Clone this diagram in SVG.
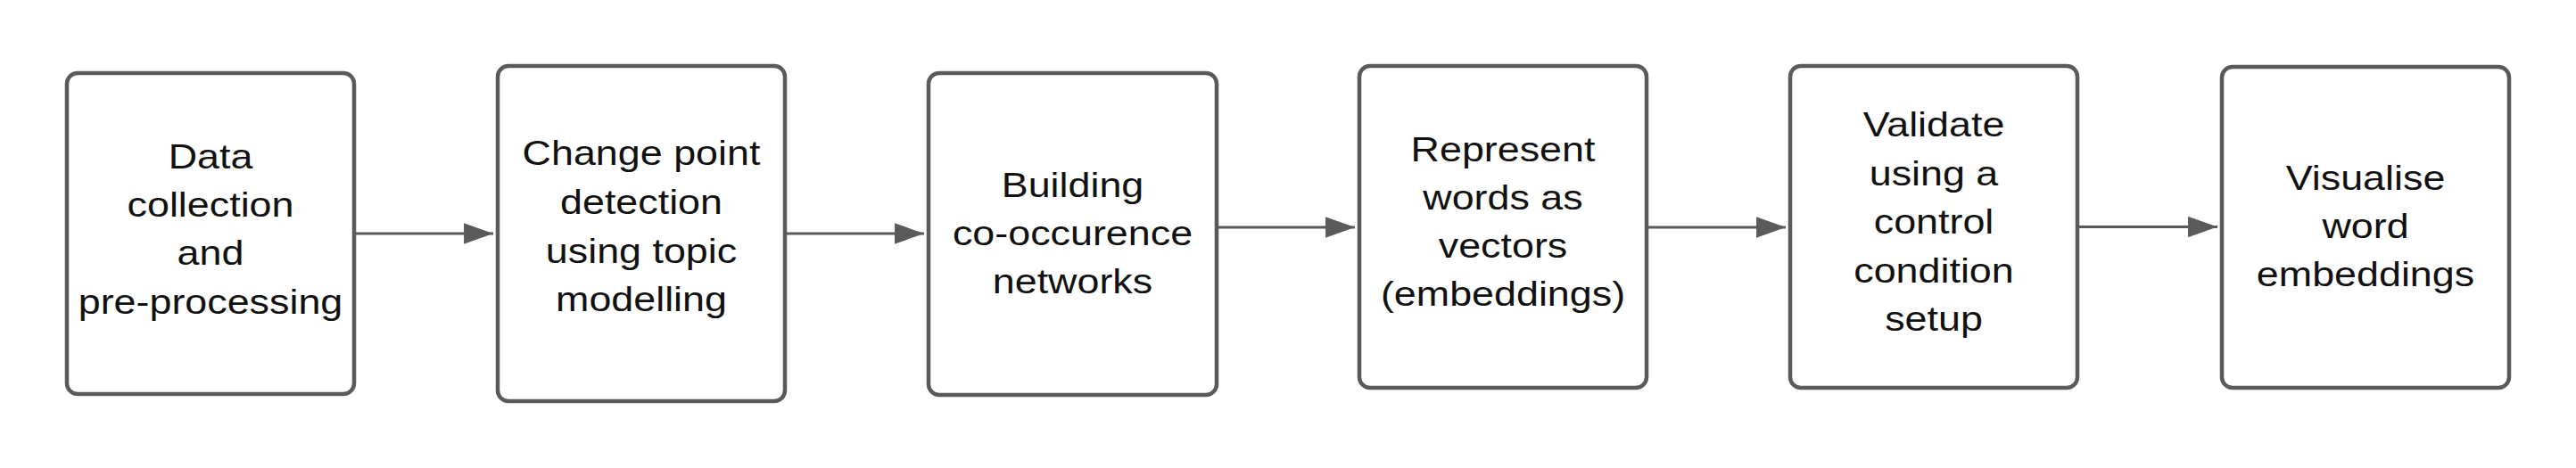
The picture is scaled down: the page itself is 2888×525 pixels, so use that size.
<svg xmlns="http://www.w3.org/2000/svg" width="2888" height="525" viewBox="0 0 2888 525">
<style>
.box{fill:#ffffff;stroke:#5a5a5a;stroke-width:4.5}
.lbl{font-family:"Liberation Sans",Arial,sans-serif;font-size:39px;fill:#111111;text-anchor:middle}
.conn{stroke:#5a5a5a;stroke-width:3;fill:none;marker-end:url(#ah)}
</style>
<defs>
<marker id="ah" markerUnits="userSpaceOnUse" markerWidth="34" markerHeight="24" viewBox="0 0 32 22" refX="31" refY="11" orient="auto">
<path d="M0,0 L31,11 L0,22 Z" fill="#5a5a5a"/>
</marker>
</defs>
<rect width="2888" height="525" fill="#ffffff"/>
<g id="connectors">
<line class="conn" x1="399" y1="262" x2="553" y2="262"/>
<line class="conn" x1="882" y1="262" x2="1036" y2="262"/>
<line class="conn" x1="1366" y1="255" x2="1519" y2="255"/>
<line class="conn" x1="1848" y1="255" x2="2002" y2="255"/>
<line class="conn" x1="2331" y1="254.5" x2="2486" y2="254.5"/>
</g>
<g id="n1">
<rect class="box" x="75" y="82" width="322" height="360" rx="12"/>
<text class="lbl" transform="translate(236 0) scale(1.15 1)"><tspan x="0" y="189">Data</tspan><tspan x="0" y="243">collection</tspan><tspan x="0" y="297">and</tspan><tspan x="0" y="352">pre-processing</tspan></text>
</g>
<g id="n2">
<rect class="box" x="558" y="74" width="322" height="376" rx="12"/>
<text class="lbl" transform="translate(719 0) scale(1.15 1)"><tspan x="0" y="185">Change point</tspan><tspan x="0" y="240">detection</tspan><tspan x="0" y="295">using topic</tspan><tspan x="0" y="349">modelling</tspan></text>
</g>
<g id="n3">
<rect class="box" x="1041" y="82" width="323" height="361" rx="12"/>
<text class="lbl" transform="translate(1202.5 0) scale(1.15 1)"><tspan x="0" y="221">Building</tspan><tspan x="0" y="275">co-occurence</tspan><tspan x="0" y="329">networks</tspan></text>
</g>
<g id="n4">
<rect class="box" x="1524" y="74" width="322" height="361" rx="12"/>
<text class="lbl" transform="translate(1685 0) scale(1.15 1)"><tspan x="0" y="181">Represent</tspan><tspan x="0" y="235">words as</tspan><tspan x="0" y="289">vectors</tspan><tspan x="0" y="343">(embeddings)</tspan></text>
</g>
<g id="n5">
<rect class="box" x="2007" y="74" width="322" height="361" rx="12"/>
<text class="lbl" transform="translate(2168 0) scale(1.15 1)"><tspan x="0" y="153">Validate</tspan><tspan x="0" y="208">using a</tspan><tspan x="0" y="262">control</tspan><tspan x="0" y="317">condition</tspan><tspan x="0" y="371">setup</tspan></text>
</g>
<g id="n6">
<rect class="box" x="2491" y="75" width="322" height="360" rx="12"/>
<text class="lbl" transform="translate(2652 0) scale(1.15 1)"><tspan x="0" y="213">Visualise</tspan><tspan x="0" y="267">word</tspan><tspan x="0" y="321">embeddings</tspan></text>
</g>
</svg>
